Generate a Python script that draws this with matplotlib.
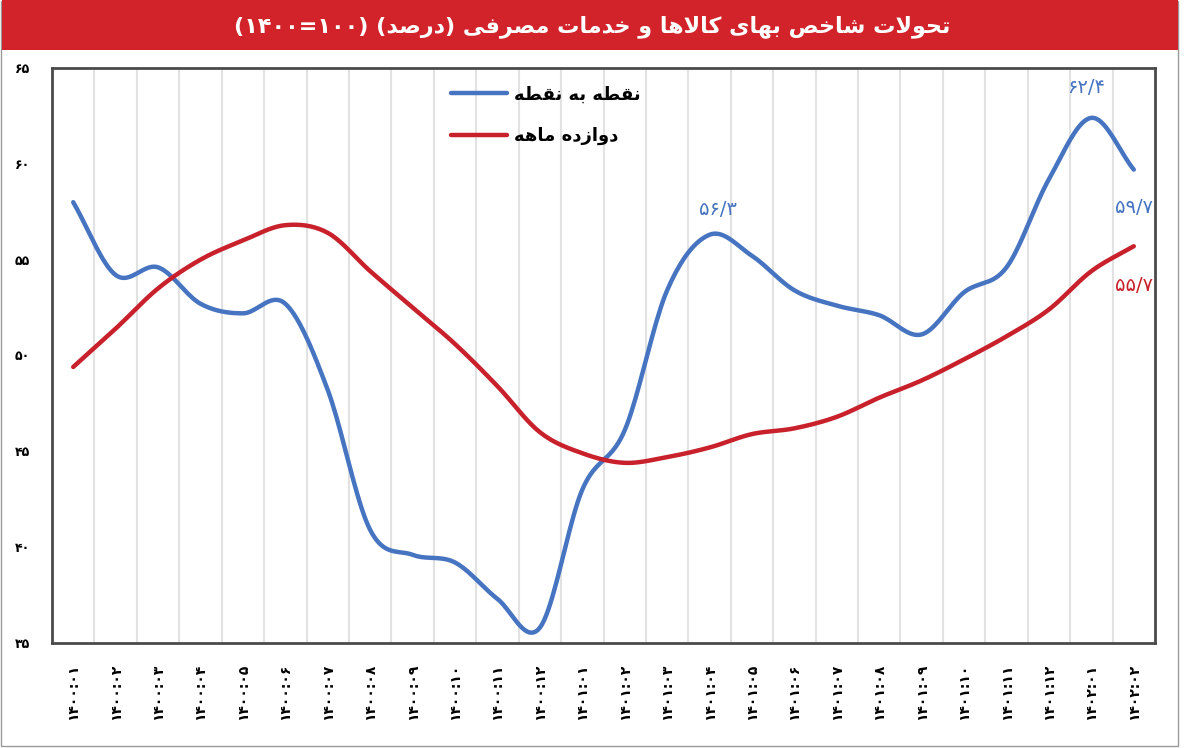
import numpy as np
import matplotlib
matplotlib.use('Agg')
import matplotlib.pyplot as plt
from matplotlib.patches import Rectangle

# month labels (year:month), solar calendar
months = ['1400:01', '1400:02', '1400:03', '1400:04', '1400:05', '1400:06',
          '1400:07', '1400:08', '1400:09', '1400:10', '1400:11', '1400:12',
          '1401:01', '1401:02', '1401:03', '1401:04', '1401:05', '1401:06',
          '1401:07', '1401:08', '1401:09', '1401:10', '1401:11', '1401:12',
          '1402:01', '1402:02']

# point to point inflation (%)
point_to_point = [58.0, 54.2, 54.6, 52.7, 52.2, 52.7, 48.2, 40.9, 39.6, 39.2,
                  37.3, 35.8, 43.0, 46.1, 53.4, 56.3, 55.2, 53.4, 52.6, 52.1,
                  51.1, 53.3, 54.6, 59.2, 62.4, 59.7]

# twelve month inflation (%)
twelve_month = [49.4, 51.4, 53.5, 55.0, 56.0, 56.8, 56.4, 54.4, 52.5, 50.6,
                48.4, 46.0, 44.9, 44.4, 44.7, 45.2, 45.9, 46.2, 46.8, 47.8,
                48.7, 49.8, 51.0, 52.4, 54.4, 55.7]

y_ticks = [35, 40, 45, 50, 55, 60, 65]

title = 'تحولات شاخص بهای کالاها و خدمات مصرفی (درصد) (100=1400)'
legend_labels = ['نقطه به نقطه', 'دوازده ماهه']

BLUE = '#4674C1'
RED = '#C8212B'

# --- minimal persian shaping (matplotlib has no bidi / joining) ---
FORMS = {
    # isolated, final, initial, medial
    'ا': ('\uFE8D', '\uFE8E', None, None),
    'آ': ('\uFE81', '\uFE82', None, None),
    'ب': ('\uFE8F', '\uFE90', '\uFE91', '\uFE92'),
    'پ': ('\uFB56', '\uFB57', '\uFB58', '\uFB59'),
    'ت': ('\uFE95', '\uFE96', '\uFE97', '\uFE98'),
    'ث': ('\uFE99', '\uFE9A', '\uFE9B', '\uFE9C'),
    'ج': ('\uFE9D', '\uFE9E', '\uFE9F', '\uFEA0'),
    'چ': ('\uFB7A', '\uFB7B', '\uFB7C', '\uFB7D'),
    'ح': ('\uFEA1', '\uFEA2', '\uFEA3', '\uFEA4'),
    'خ': ('\uFEA5', '\uFEA6', '\uFEA7', '\uFEA8'),
    'د': ('\uFEA9', '\uFEAA', None, None),
    'ذ': ('\uFEAB', '\uFEAC', None, None),
    'ر': ('\uFEAD', '\uFEAE', None, None),
    'ز': ('\uFEAF', '\uFEB0', None, None),
    'ژ': ('\uFB8A', '\uFB8B', None, None),
    'س': ('\uFEB1', '\uFEB2', '\uFEB3', '\uFEB4'),
    'ش': ('\uFEB5', '\uFEB6', '\uFEB7', '\uFEB8'),
    'ص': ('\uFEB9', '\uFEBA', '\uFEBB', '\uFEBC'),
    'ض': ('\uFEBD', '\uFEBE', '\uFEBF', '\uFEC0'),
    'ط': ('\uFEC1', '\uFEC2', '\uFEC3', '\uFEC4'),
    'ظ': ('\uFEC5', '\uFEC6', '\uFEC7', '\uFEC8'),
    'ع': ('\uFEC9', '\uFECA', '\uFECB', '\uFECC'),
    'غ': ('\uFECD', '\uFECE', '\uFECF', '\uFED0'),
    'ف': ('\uFED1', '\uFED2', '\uFED3', '\uFED4'),
    'ق': ('\uFED5', '\uFED6', '\uFED7', '\uFED8'),
    'ک': ('\uFB8E', '\uFB8F', '\uFB90', '\uFB91'),
    'گ': ('\uFB92', '\uFB93', '\uFB94', '\uFB95'),
    'ل': ('\uFEDD', '\uFEDE', '\uFEDF', '\uFEE0'),
    'م': ('\uFEE1', '\uFEE2', '\uFEE3', '\uFEE4'),
    'ن': ('\uFEE5', '\uFEE6', '\uFEE7', '\uFEE8'),
    'و': ('\uFEED', '\uFEEE', None, None),
    'ه': ('\uFEE9', '\uFEEA', '\uFEEB', '\uFEEC'),
    'ی': ('\uFBFC', '\uFBFD', '\uFBFE', '\uFBFF'),
}
FA_DIGITS = str.maketrans('0123456789', '۰۱۲۳۴۵۶۷۸۹')
DIGITS = set('۰۱۲۳۴۵۶۷۸۹')
MIRROR = {'(': ')', ')': '('}


def fa(text):
    text = text.translate(FA_DIGITS)
    out = []
    i = 0
    while i < len(text):
        c = text[i]
        if c not in FORMS:
            out.append(c)
            i += 1
            continue
        prev = text[i - 1] if i > 0 else ''
        joins_prev = prev in FORMS and FORMS[prev][2] is not None
        if c == 'ل' and i + 1 < len(text) and text[i + 1] == 'ا':
            out.append('\uFEFC' if joins_prev else '\uFEFB')
            i += 2
            continue
        nxt = text[i + 1] if i + 1 < len(text) else ''
        joins_next = nxt in FORMS and FORMS[c][2] is not None
        iso, fin, ini, med = FORMS[c]
        if joins_prev and joins_next:
            out.append(med)
        elif joins_prev:
            out.append(fin)
        elif joins_next:
            out.append(ini)
        else:
            out.append(iso)
        i += 1
    # visual order: right to left, numbers stay left to right
    runs = []
    s = ''.join(out)
    j = 0
    while j < len(s):
        if s[j] in DIGITS:
            k = j
            while k < len(s) and (s[k] in DIGITS or (s[k] in '/:' and k + 1 < len(s) and s[k + 1] in DIGITS)):
                k += 1
            runs.append(s[j:k])
            j = k
        else:
            runs.append(MIRROR.get(s[j], s[j]))
            j += 1
    return ''.join(runs[::-1])


def smooth(y, steps=20):
    # catmull-rom through the data points, like excel's smoothed line
    y = np.asarray(y, float)
    x = np.arange(len(y), dtype=float)
    px = np.concatenate([[2 * x[0] - x[1]], x, [2 * x[-1] - x[-2]]])
    py = np.concatenate([[2 * y[0] - y[1]], y, [2 * y[-1] - y[-2]]])
    t = np.linspace(0, 1, steps, endpoint=False)
    xs, ys = [], []
    for i in range(len(y) - 1):
        for p, acc in ((px, xs), (py, ys)):
            p0, p1, p2, p3 = p[i:i + 4]
            acc.append(0.5 * (2 * p1 + (-p0 + p2) * t
                              + (2 * p0 - 5 * p1 + 4 * p2 - p3) * t ** 2
                              + (-p0 + 3 * p1 - 3 * p2 + p3) * t ** 3))
    xs.append([x[-1]])
    ys.append([y[-1]])
    return np.concatenate(xs), np.concatenate(ys)


plt.rcParams['font.family'] = ['DejaVu Sans']

W, H = 1201, 748
fig = plt.figure(figsize=(W / 100, H / 100), dpi=100)

# outer frame and red title band
fig.add_artist(Rectangle((1 / W, 1 - 746 / H), 1177 / W, 745 / H, transform=fig.transFigure,
                         fill=False, edgecolor='#9a9a9a', linewidth=1))
fig.add_artist(Rectangle((2 / W, 1 - 50 / H), 1176 / W, 50 / H, transform=fig.transFigure,
                         facecolor='#D2232A', edgecolor='none'))
fig.text(592 / W, 1 - 27 / H, fa(title), color='white', fontsize=16, fontweight='bold',
         ha='center', va='center')

ax = fig.add_axes([52 / W, 1 - 643 / H, (1155 - 52) / W, (643 - 68) / H])

x_idx = np.arange(len(months))
bx, by = smooth(point_to_point)
rx, ry = smooth(twelve_month)
ax.plot(bx, by, color=BLUE, linewidth=3.2, solid_capstyle='round', label=fa(legend_labels[0]))
ax.plot(rx, ry, color=RED, linewidth=3.2, solid_capstyle='round', label=fa(legend_labels[1]))

ax.set_xlim(-0.5, len(months) - 0.5)
ax.set_ylim(35, 65)

ax.set_xticks(x_idx, [fa(m) for m in months], rotation=90)
ax.set_xticks(np.arange(0.5, len(months) - 1, 1), minor=True)
ax.grid(which='minor', axis='x', color='#E2E2E2', linewidth=1.5)
ax.set_axisbelow(True)
ax.set_yticks(y_ticks, [fa(str(v)) for v in y_ticks])
ax.tick_params(axis='x', which='both', length=0, pad=15, labelsize=10)
ax.tick_params(axis='y', length=0, pad=16, labelsize=9)
for lab in ax.get_xticklabels() + ax.get_yticklabels():
    lab.set_fontweight('bold')

for side in ax.spines.values():
    side.set_color('#4a4a4a')
    side.set_linewidth(2)

ax.legend(loc='upper left', bbox_to_anchor=(0.354, 0.985), frameon=False, borderpad=0,
          handlelength=3.1, handletextpad=0.35, labelspacing=1.3,
          prop={'size': 13, 'weight': 'bold'})

# value labels
notes = [(24, point_to_point, BLUE, (-5, 30)),
         (25, point_to_point, BLUE, (0, -38)),
         (15, point_to_point, BLUE, (8, 25)),
         (25, twelve_month, RED, (0, -39))]
for i, series, col, off in notes:
    ax.annotate(fa(f'{series[i]:.1f}'.replace('.', '/')), (i, series[i]), xytext=off,
                textcoords='offset pixels', ha='center', va='center', color=col, fontsize=14)

fig.savefig('out.png', dpi=100)
